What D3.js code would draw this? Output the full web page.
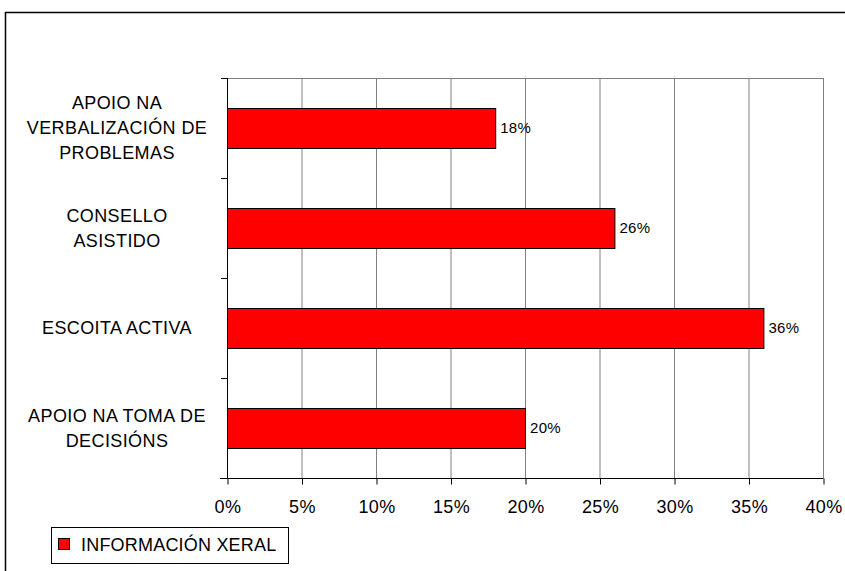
<!DOCTYPE html>
<html><head><meta charset="utf-8">
<script src="https://cdn.jsdelivr.net/npm/d3@7"></script>
<style>body{margin:0;background:#fff}svg{display:block;font-family:"Liberation Sans",Arial,sans-serif}</style>
</head><body>
<svg id="c" width="845" height="571"></svg>
<script>
const categories = [
  ["APOIO NA", "VERBALIZACIÓN DE", "PROBLEMAS"],
  ["CONSELLO", "ASISTIDO"],
  ["ESCOITA ACTIVA"],
  ["APOIO NA TOMA DE", "DECISIÓNS"]
];
const values = [18, 26, 36, 20];
const xTicks = [0, 5, 10, 15, 20, 25, 30, 35, 40];
const seriesName = "INFORMACIÓN XERAL";

const svg = d3.select("#c");
// outer frame
svg.append("rect").attr("x", 5.5).attr("y", 12.5).attr("width", 845).attr("height", 570)
  .attr("fill", "#fff").attr("stroke", "#000").attr("stroke-width", 1.5);

const L = 227, R = 823, T = 78, B = 478;
const x = d3.scaleLinear().domain([0, 40]).range([L, R]);
const y = d3.scaleBand().domain(d3.range(categories.length)).range([T, B])
  .paddingInner(0.6).paddingOuter(0.3);

// gridlines
svg.append("g").selectAll("line").data(xTicks.slice(1)).join("line")
  .attr("x1", d => x(d) + 0.5).attr("x2", d => x(d) + 0.5)
  .attr("y1", T).attr("y2", B).attr("stroke", "#808080").attr("stroke-width", 1);
svg.append("line").attr("x1", L).attr("x2", R + 0.5).attr("y1", T + 0.5).attr("y2", T + 0.5)
  .attr("stroke", "#808080");

// bars
svg.append("g").selectAll("rect").data(values).join("rect")
  .attr("x", L + 0.5).attr("y", (d, i) => y(i) + 0.5)
  .attr("width", d => x(d) - L).attr("height", y.bandwidth())
  .attr("fill", "#ff0000").attr("stroke", "#000").attr("stroke-width", 1);

// value labels
svg.append("g").selectAll("text").data(values).join("text")
  .attr("x", d => x(d) + 5).attr("y", (d, i) => y(i) + y.bandwidth() / 2)
  .attr("dy", "0.35em").attr("font-size", 15).attr("letter-spacing", 0.3).attr("fill", "#000")
  .text(d => d + "%");

// x axis
const xAxis = d3.axisBottom(x).tickValues(xTicks).tickFormat(d => d + "%").tickSize(6).tickPadding(16);
const gx = svg.append("g").attr("transform", `translate(0.5,${B + 0.5})`).call(xAxis);
gx.select(".domain").attr("d", `M${L - 7 - 0.5},0H${R}`);
gx.selectAll("text").attr("font-size", 18).attr("letter-spacing", 0.4)
  .attr("font-family", "Liberation Sans, Arial, sans-serif").attr("fill", "#000");
gx.selectAll("line").attr("stroke", "#000");

// y axis line + ticks at band boundaries
svg.append("line").attr("x1", L + 0.5).attr("x2", L + 0.5).attr("y1", T).attr("y2", B).attr("stroke", "#000");
const bounds = d3.range(categories.length).map(i => y(i) - y.step() * 0.3);
svg.append("g").selectAll("line").data(bounds).join("line")
  .attr("x1", L - 6).attr("x2", L).attr("y1", d => Math.round(d) + 0.5).attr("y2", d => Math.round(d) + 0.5)
  .attr("stroke", "#000");

// category labels
const lh = 25;
const cg = svg.append("g").attr("font-size", 18).attr("letter-spacing", 0.4).attr("fill", "#000").attr("text-anchor", "middle");
categories.forEach((lines, i) => {
  const cy = y(i) + y.bandwidth() / 2;
  const t = cg.append("text").attr("x", 117).attr("y", cy - (lines.length - 1) * lh / 2);
  lines.forEach((s, j) => t.append("tspan").attr("x", 117).attr("dy", j === 0 ? "0.35em" : lh).text(s));
});

// legend
const lg = svg.append("g");
lg.append("rect").attr("x", 51.5).attr("y", 527.5).attr("width", 237).attr("height", 36)
  .attr("fill", "#fff").attr("stroke", "#000");
lg.append("rect").attr("x", 58.5).attr("y", 538.5).attr("width", 11).attr("height", 11)
  .attr("fill", "#ff0000").attr("stroke", "#000");
lg.append("text").attr("x", 81).attr("y", 545).attr("dy", "0.35em").attr("font-size", 18)
  .attr("letter-spacing", 0.2).text(seriesName);
</script>
</body></html>
